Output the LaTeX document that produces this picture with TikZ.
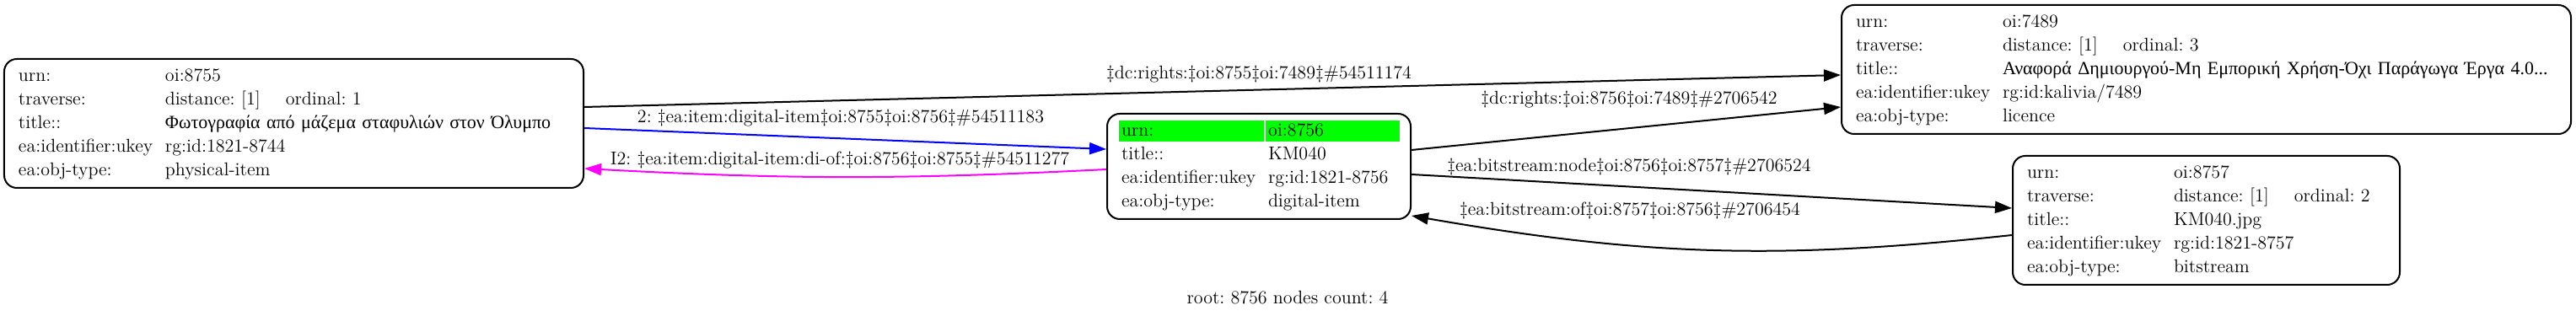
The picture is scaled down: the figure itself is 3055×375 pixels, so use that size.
\documentclass[tikz,border=0pt]{standalone}
\usepackage{fontspec}
\newfontfamily\greekfont{Liberation Serif}
\usetikzlibrary{arrows.meta, positioning, calc}

\definecolor{urngreen}{HTML}{00FF00}
\definecolor{linkblue}{HTML}{0000FF}
\definecolor{linkpink}{HTML}{FF00FF}

\newcommand{\fieldname}[1]{\makebox[87bp][l]{#1}}
\frenchspacing

\begin{document}
\begin{tikzpicture}[
    x=0.5bp, y=-0.5bp,
    record/.style={rectangle, draw=black, line width=1bp, rounded corners=7.5bp, inner xsep=8.5bp, inner ysep=0pt, align=left, font=\fontsize{11bp}{14bp}\selectfont},
    linklabel/.style={font=\fontsize{11bp}{14bp}\selectfont, inner sep=1bp},
    link/.style={->, >={Triangle[length=10bp, width=7bp]}, line width=1bp},
    rootnote/.style={font=\fontsize{11bp}{14bp}\selectfont}
]

\path[fill=white, use as bounding box] (0,0) rectangle (3055,375);

% =================== PHYSICAL ITEM ===================
\node[record, text width=326.5bp, minimum height=76.5bp] (n8755) at (348.5,146.5) {%
\begin{tabular}{@{}l@{}l@{}}
\fieldname{urn:} & oi:8755\\
\fieldname{traverse:} & distance: [1]\hspace{15bp}ordinal: 1\\
\fieldname{title::} & {\greekfont Φωτογραφία από μάζεμα σταφυλιών στον Όλυμπο}\\
\fieldname{ea:identifier:ukey} & rg:id:1821-8744\\
\fieldname{ea:obj-type:} & physical-item
\end{tabular}};

% =================== ROOT (DIGITAL ITEM) ===================
% urn row is highlighted
\fill[urngreen] (1327,143) rectangle (1499,168);
\fill[urngreen] (1501,143) rectangle (1660,168);

\node[record, text width=163bp, minimum height=62.5bp] (n8756) at (1493,197.5) {%
\begin{tabular}{@{}l@{}l@{}}
\fieldname{urn:} & oi:8756\\
\fieldname{title::} & KM040\\
\fieldname{ea:identifier:ukey} & rg:id:1821-8756\\
\fieldname{ea:obj-type:} & digital-item
\end{tabular}};

% =================== LICENCE ===================
\node[record, text width=415.5bp, minimum height=76.5bp] (n7489) at (2616.5,82.5) {%
\begin{tabular}{@{}l@{}l@{}}
\fieldname{urn:} & oi:7489\\
\fieldname{traverse:} & distance: [1]\hspace{15bp}ordinal: 3\\
\fieldname{title::} & {\greekfont Αναφορά Δημιουργού-Μη Εμπορική Χρήση-Όχι Παράγωγα Έργα 4.0...}\\
\fieldname{ea:identifier:ukey} & rg:id:kalivia/7489\\
\fieldname{ea:obj-type:} & licence
\end{tabular}};

% =================== BITSTREAM ===================
\node[record, text width=212.5bp, minimum height=76.5bp] (n8757) at (2616.5,261.5) {%
\begin{tabular}{@{}l@{}l@{}}
\fieldname{urn:} & oi:8757\\
\fieldname{traverse:} & distance: [1]\hspace{15bp}ordinal: 2\\
\fieldname{title::} & KM040.jpg\\
\fieldname{ea:identifier:ukey} & rg:id:1821-8757\\
\fieldname{ea:obj-type:} & bitstream
\end{tabular}};

% =================== LINKS ===================
\draw[link] ([yshift=9.75bp]n8755.east) -- ([yshift=-3.25bp]n7489.west);
\node[linklabel] (l54511174) at (1493,88) {‡dc:rights:‡oi:8755‡oi:7489‡\#54511174};

\draw[link, linkblue] ([yshift=-2.75bp]n8755.east) -- ([yshift=10.25bp]n8756.west);
\node[linklabel] (l54511183) at (997,140) {2: ‡ea:item:digital-item‡oi:8755‡oi:8756‡\#54511183};

\draw[link, linkpink] ([yshift=-1.75bp]n8756.west) to[bend left=3] ([yshift=-26.75bp]n8755.east);
\node[linklabel] (l54511277) at (996,190) {I2: ‡ea:item:digital-item:di-of:‡oi:8756‡oi:8755‡\#54511277};

\draw[link] ([yshift=9.75bp]n8756.east) -- ([yshift=-22.25bp]n7489.west);
\node[linklabel] (l2706542) at (1932,118) {‡dc:rights:‡oi:8756‡oi:7489‡\#2706542};

\draw[link] ([yshift=-4.75bp]n8756.east) -- ([yshift=7.25bp]n8757.west);
\node[linklabel] (l2706524) at (1932,198) {‡ea:bitstream:node‡oi:8756‡oi:8757‡\#2706524};

\draw[link] ([yshift=-8.75bp]n8757.west) to[bend left=8] ([yshift=2.5bp]n8756.south east);
\node[linklabel] (l2706454) at (1933,250) {‡ea:bitstream:of‡oi:8757‡oi:8756‡\#2706454};

% =================== FOOTER ===================
\node[rootnote] (root) at (1527,353) {root: 8756 nodes count: 4};

\end{tikzpicture}
\end{document}
